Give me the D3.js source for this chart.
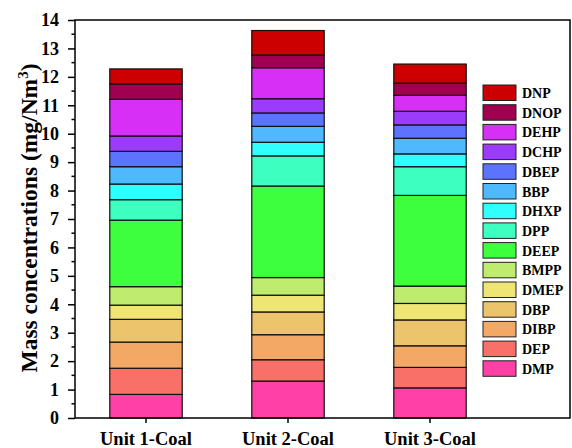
<!DOCTYPE html>
<html>
<head>
<meta charset="utf-8">
<script src="https://cdn.jsdelivr.net/npm/d3@7"></script>
<style>
  body { margin: 0; background: #fff; }
  text { font-family: "Liberation Serif", "Times New Roman", serif; font-weight: bold; }
</style>
</head>
<body>
<div id="chart"></div>
<script>
// categories and compounds (bottom to top of stack)
var units = ["Unit 1-Coal", "Unit 2-Coal", "Unit 3-Coal"];
var compounds = ["DMP", "DEP", "DIBP", "DBP", "DMEP", "BMPP", "DEEP", "DPP", "DHXP", "BBP", "DBEP", "DCHP", "DEHP", "DNOP", "DNP"];
var colors = ["#ff40a6", "#f97068", "#f3a866", "#ebc46b", "#eee574", "#bfec6e", "#3dff3d", "#3cffc0", "#2fffff", "#4fb9ff", "#5c73ff", "#9b3cfa", "#d630f7", "#a0004f", "#cc0000"];

// mass concentrations, mg/Nm3, one value per compound
var unit1 = [0.83, 0.92, 0.92, 0.80, 0.50, 0.65, 2.34, 0.72, 0.55, 0.61, 0.54, 0.54, 1.29, 0.54, 0.53];
var unit2 = [1.30, 0.75, 0.88, 0.80, 0.59, 0.62, 3.22, 1.06, 0.48, 0.56, 0.47, 0.50, 1.09, 0.45, 0.86];
var unit3 = [1.06, 0.72, 0.76, 0.91, 0.58, 0.61, 3.19, 1.01, 0.45, 0.55, 0.47, 0.48, 0.56, 0.43, 0.67];

var yTicks = d3.range(0, 15, 1);

var W = 572, H = 448;
var margin = {top: 20, right: 2, bottom: 30, left: 75};
var plotRight = W - margin.right, plotBottom = H - margin.bottom;

var table = units.map(function(u, i) {
    var row = {unit: u};
    var vals = [unit1, unit2, unit3][i];
    compounds.forEach(function(c, j) { row[c] = vals[j]; });
    return row;
});
var series = d3.stack().keys(compounds)(table);

var svg = d3.select("#chart").append("svg")
    .attr("width", W).attr("height", H);

var x = d3.scaleBand().domain(units)
    .range([margin.left, margin.left + 426])
    .paddingInner(0.49).paddingOuter(0.245);
var y = d3.scaleLinear().domain([0, 14]).range([plotBottom, margin.top]);

// bars
svg.append("g").selectAll("g")
    .data(series)
    .enter().append("g")
    .attr("fill", function(d, i) { return colors[i]; })
  .selectAll("rect")
    .data(function(d) { return d; })
    .enter().append("rect")
    .attr("x", function(d) { return x(d.data.unit); })
    .attr("width", x.bandwidth())
    .attr("y", function(d) { return y(d[1]); })
    .attr("height", function(d) { return y(d[0]) - y(d[1]); })
    .attr("stroke", "#111")
    .attr("stroke-width", 1.2);

// frame
svg.append("rect")
    .attr("x", margin.left).attr("y", margin.top)
    .attr("width", plotRight - margin.left).attr("height", plotBottom - margin.top)
    .attr("fill", "none").attr("stroke", "#000").attr("stroke-width", 1.5);

// y axis, major + minor ticks
var yAxis = d3.axisLeft(y).tickValues(yTicks).tickSize(7).tickPadding(9).tickSizeOuter(0);
var gy = svg.append("g").attr("transform", "translate(" + margin.left + ",0)").call(yAxis);
gy.select(".domain").remove();
gy.selectAll("line").attr("stroke-width", 1.5);
gy.selectAll("text").style("font-size", "18px").attr("fill", "#000");
svg.append("g").selectAll("line")
    .data(d3.range(0.5, 14, 1))
    .enter().append("line")
    .attr("x1", margin.left - 3.5).attr("x2", margin.left)
    .attr("y1", function(d) { return y(d); }).attr("y2", function(d) { return y(d); })
    .attr("stroke", "#000").attr("stroke-width", 1.5);

// x axis
var xAxis = d3.axisBottom(x).tickSize(5).tickPadding(9).tickSizeOuter(0);
var gx = svg.append("g").attr("transform", "translate(0," + plotBottom + ")").call(xAxis);
gx.select(".domain").remove();
gx.selectAll("line").attr("stroke-width", 1.5);
gx.selectAll("text").style("font-size", "18.5px").attr("fill", "#000");

// y title
var yt = svg.append("text")
    .attr("transform", "translate(37," + ((margin.top + plotBottom) / 2 - 1) + ") rotate(-90)")
    .attr("text-anchor", "middle")
    .style("font-size", "23.5px");
yt.append("tspan").text("Mass concentrations (mg/Nm");
yt.append("tspan").attr("dy", -9).style("font-size", "15px").text("3");
yt.append("tspan").attr("dy", 9).text(")");

// legend, top entry = last stacked compound
var legend = svg.append("g").attr("class", "legend");
var order = compounds.slice().reverse();
var lg = legend.selectAll("g")
    .data(order)
    .enter().append("g")
    .attr("transform", function(d, i) { return "translate(483," + (85 + i * 19.7) + ")"; });
lg.append("rect")
    .attr("width", 33).attr("height", 15.5)
    .attr("fill", function(d) { return colors[compounds.indexOf(d)]; })
    .attr("stroke", "#222").attr("stroke-width", 1);
lg.append("text")
    .attr("x", 39).attr("y", 13)
    .style("font-size", "14px")
    .text(function(d) { return d; });
</script>
</body>
</html>
